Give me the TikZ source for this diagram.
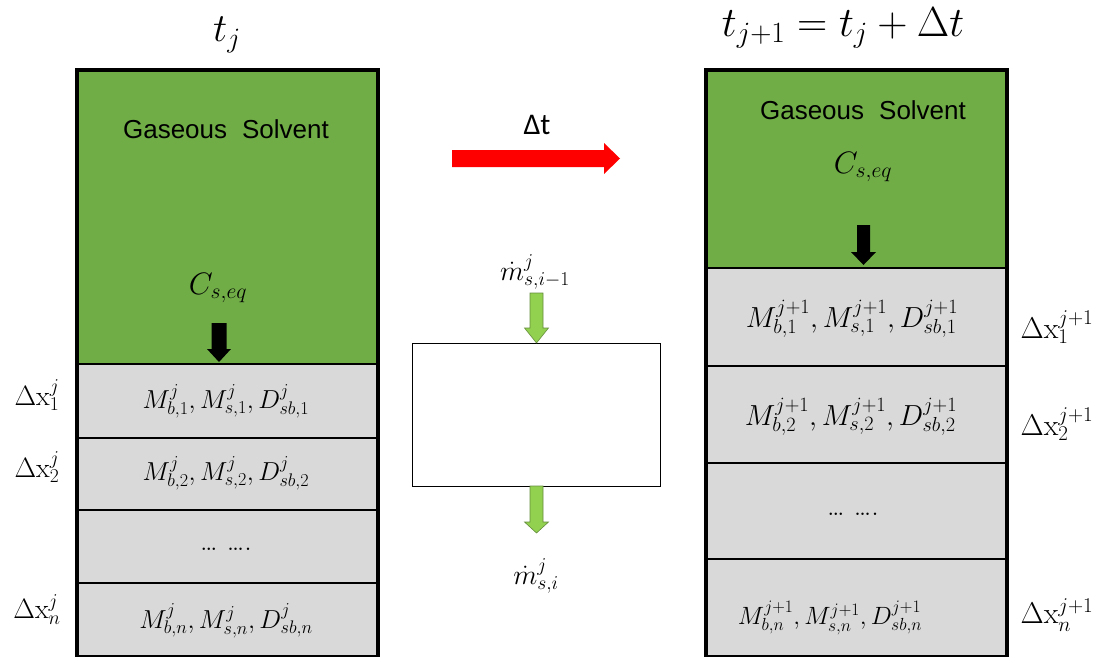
\documentclass[tikz,border=0pt]{standalone}
\usepackage{fix-cm}
\usepackage[no-math]{fontspec}
\newfontfamily\arialfont{Liberation Sans}
\newfontfamily\calibrifont{Carlito}
\definecolor{gasgreen}{RGB}{112,173,71}
\definecolor{cellgray}{RGB}{217,217,217}
\definecolor{arrgreen}{RGB}{146,208,80}
\definecolor{arredge}{RGB}{100,140,60}
\newcommand\fsz[1]{\fontsize{#1}{#1}\selectfont}
% down block arrow: x, ytop, ybase, ytip, shaft half, head half, style
\newcommand\dnblock[7]{\path[#7] (#1-#5,#2) -- (#1+#5,#2) -- (#1+#5,#3) -- (#1+#6,#3) -- (#1,#4) -- (#1-#6,#3) -- (#1-#5,#3) -- cycle;}
\tikzset{
  layer/.style={draw=black, line width=1.6pt, fill=cellgray, minimum width=299, inner sep=0pt, anchor=north west},
  gas/.style={layer, fill=gasgreen},
  frame/.style={line width=4pt},
  lbl/.style={inner sep=0pt},
  gasarrow/.style={fill=arrgreen, draw=arredge, line width=0.6pt},
  blkarrow/.style={fill=black},
}
\begin{document}
\begin{tikzpicture}[x=1pt,y=-1pt]
\useasboundingbox (0,0) rectangle (1099,656);
% ---------- left column ----------
\node[gas, minimum height=293] (LG) at (77,70) {};
\node[layer, minimum height=74] (L1) at (77,363) {};
\node[layer, minimum height=72] (L2) at (77,437) {};
\node[layer, minimum height=73] (L3) at (77,509) {};
\node[layer, minimum height=73] (L4) at (77,582) {};
\draw[frame] (LG.north west) rectangle (L4.south east);
% ---------- right column ----------
\node[gas, minimum height=197] (RG) at (706,70) {};
\node[layer, minimum height=98] (R1) at (706,267) {};
\node[layer, minimum height=97] (R2) at (706,365) {};
\node[layer, minimum height=96] (R3) at (706,462) {};
\node[layer, minimum height=97] (R4) at (706,558) {};
\draw[frame] (RG.north west) rectangle (R4.south east);
% ---------- middle box ----------
\node[draw=black, line width=1pt, fill=white, minimum width=248, minimum height=143, inner sep=0pt, anchor=north west] (box) at (412,343) {};
% ---------- arrows ----------
\dnblock{219}{323}{349}{362}{7.5}{12}{blkarrow}
\dnblock{863.5}{225}{252}{265}{6.5}{12.5}{blkarrow}
\dnblock{536.5}{293}{328}{343}{6.5}{12}{gasarrow}
\dnblock{536.5}{486}{522}{533}{6.5}{12}{gasarrow}
\fill[red] (452,150) -- (604,150) -- (604,143) -- (620,158.5) -- (604,174) -- (604,167) -- (452,167) -- cycle;
% ---------- titles ----------
\node[lbl] (tj) at (227,35) {\fsz{40}$t_j$};
\node[lbl] (tj1) at (843,28) {\fsz{42}$t_{j+1}=t_j+\Delta t$};
\node[lbl] (dt) at (537,125) {\fsz{30}\calibrifont Δt};
% ---------- gas labels ----------
\node[lbl] (gsL) at (226,129) {\fsz{26}\arialfont Gaseous\hspace{0.3em} Solvent};
\node[lbl] (gsR) at (863,110) {\fsz{26}\arialfont Gaseous\hspace{0.3em} Solvent};
\node[lbl] (cL) at (218,288) {\fsz{31}$C_{s,eq}$};
\node[lbl] (cR) at (863,167) {\fsz{31}$C_{s,eq}$};
% ---------- cell contents left ----------
\node[lbl] (tL1) at (226,401) {\fsz{26}$M^j_{b,1},M^j_{s,1},D^j_{sb,1}$};
\node[lbl] (tL2) at (226,473) {\fsz{26}$M^j_{b,2},M^j_{s,2},D^j_{sb,2}$};
\node[lbl] (tL3) at (226,549) {\fsz{30}\ldots\ \ldots.};
\node[lbl] (tL4) at (226,621) {\fsz{26}$M^j_{b,n},M^j_{s,n},D^j_{sb,n}$};
% ---------- cell contents right ----------
\node[lbl] (tR1) at (852,319) {\fsz{29}$M^{j+1}_{b,1},M^{j+1}_{s,1},D^{j+1}_{sb,1}$};
\node[lbl] (tR2) at (851,417) {\fsz{29}$M^{j+1}_{b,2},M^{j+1}_{s,2},D^{j+1}_{sb,2}$};
\node[lbl] (tR3) at (853,514) {\fsz{30}\ldots\ \ldots.};
\node[lbl] (tR4) at (830,618) {\fsz{25}$M^{j+1}_{b,n},M^{j+1}_{s,n},D^{j+1}_{sb,n}$};
% ---------- delta x labels ----------
\node[lbl] (dxL1) at (37,395) {\fsz{28}$\Delta\mathrm{x}^j_1$};
\node[lbl] (dxL2) at (37,467) {\fsz{28}$\Delta\mathrm{x}^j_2$};
\node[lbl] (dxLn) at (37,610) {\fsz{28}$\Delta\mathrm{x}^j_n$};
\node[lbl] (dxR1) at (1057,327) {\fsz{30}$\Delta\mathrm{x}^{j+1}_1$};
\node[lbl] (dxR2) at (1057,424) {\fsz{30}$\Delta\mathrm{x}^{j+1}_2$};
\node[lbl] (dxRn) at (1057,615) {\fsz{30}$\Delta\mathrm{x}^{j+1}_n$};
% ---------- mass flow labels ----------
\node[lbl] (mIn) at (535,272) {\fsz{28}$\dot{m}^j_{s,i-1}$};
\node[lbl] (mOut) at (536,576) {\fsz{28}$\dot{m}^j_{s,i}$};
\end{tikzpicture}
\end{document}
